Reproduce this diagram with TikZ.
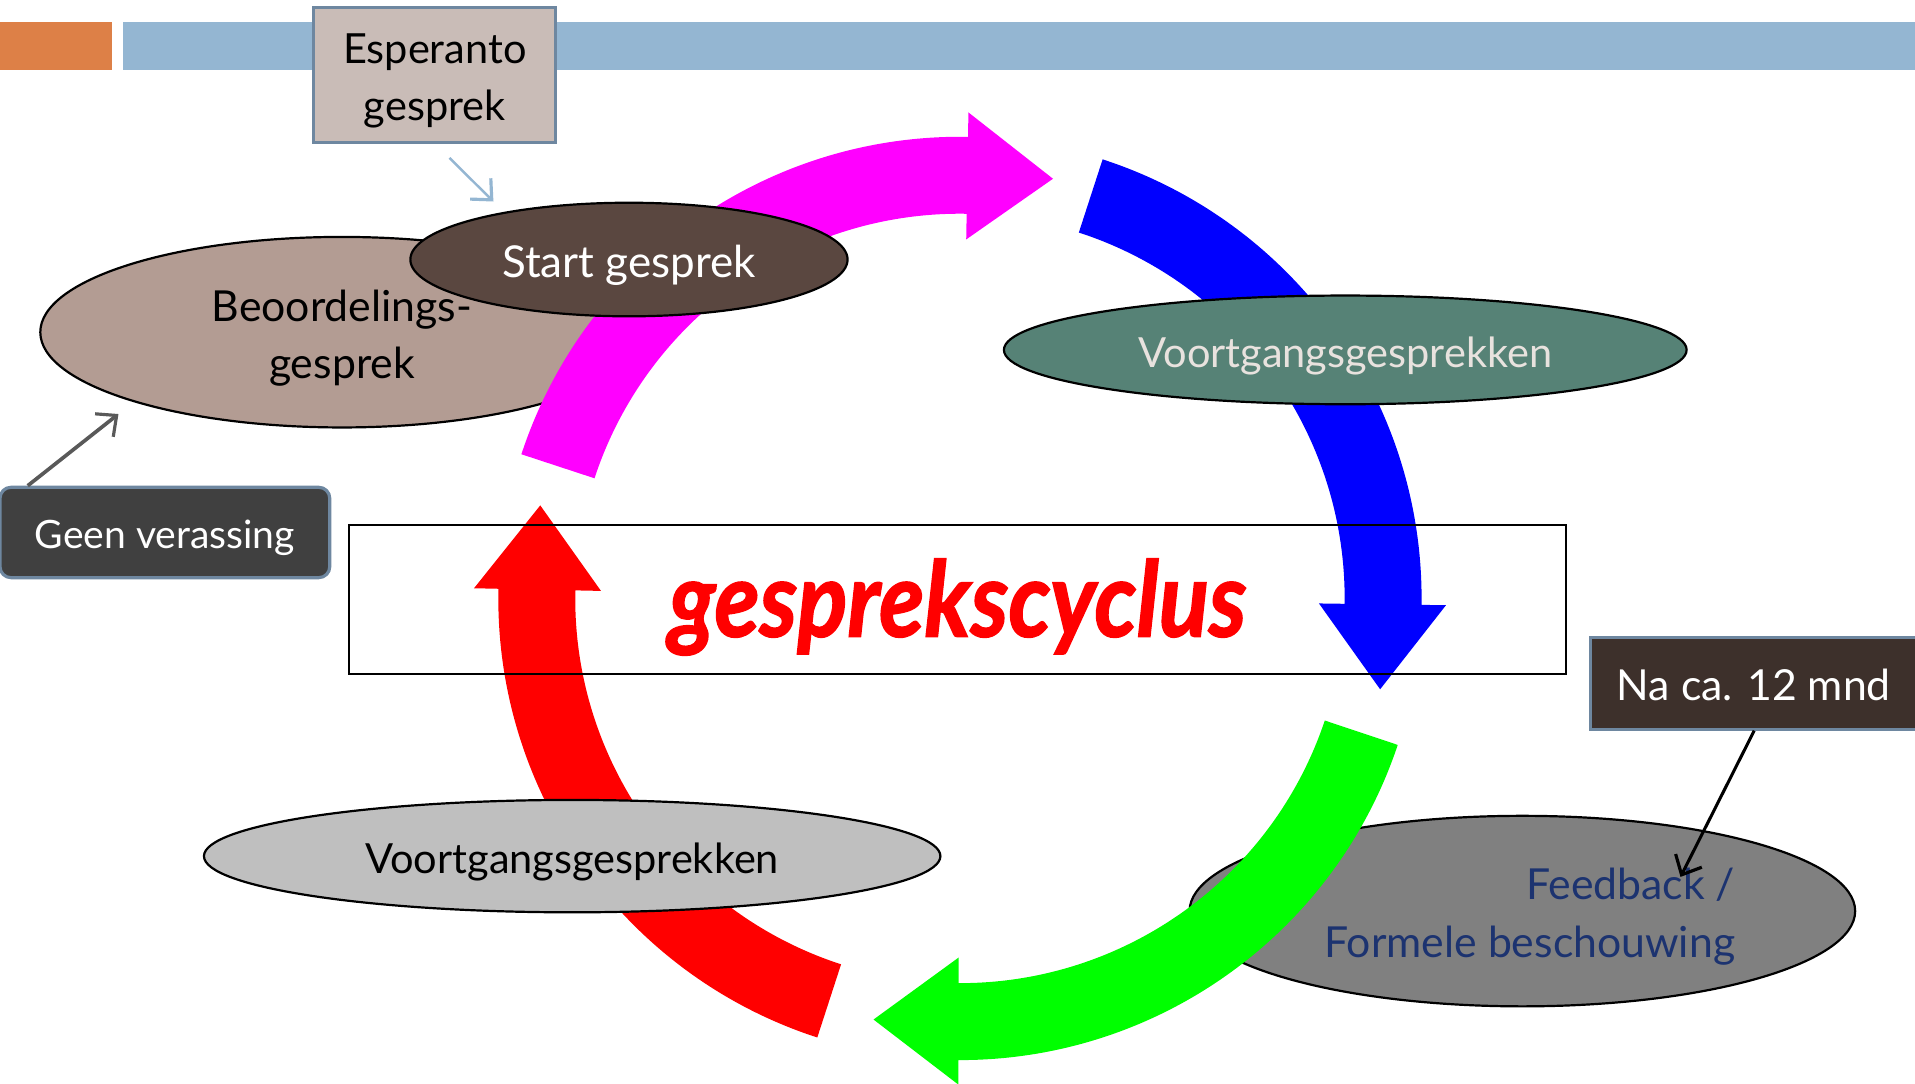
\documentclass[tikz,border=0pt]{standalone}
\usepackage{fontspec}
\setmainfont{Lato}
\newfontfamily\titlefont{Lato}[BoldItalicFeatures={FakeBold=1.6}]
\usetikzlibrary{arrows.meta,shapes.geometric}
\definecolor{barorange}{HTML}{DD8047}
\definecolor{barblue}{HTML}{94B6D2}
\definecolor{espfill}{HTML}{C9BCB7}
\definecolor{boxborder}{HTML}{6E87A0}
\definecolor{beofill}{HTML}{B39C93}
\definecolor{startfill}{HTML}{5A4740}
\definecolor{vtrfill}{HTML}{568276}
\definecolor{vtrtext}{HTML}{E8E2DE}
\definecolor{fbfill}{HTML}{808080}
\definecolor{fbtext}{HTML}{1C3370}
\definecolor{vbotfill}{HTML}{BFBFBF}
\definecolor{geenfill}{HTML}{404040}
\definecolor{nafill}{HTML}{3D302B}
\definecolor{geenarrow}{HTML}{595959}
\definecolor{cmag}{HTML}{FF00FF}
\definecolor{cblue}{HTML}{0000FF}
\definecolor{cgreen}{HTML}{00FF00}
\definecolor{cred}{HTML}{FF0000}
\newcommand\labfont[1]{\fontsize{#1}{47}\selectfont}
\newcommand\cycarrow[4]{%
  \fill[#1] (#2:378pt) arc[start angle=#2, end angle=#3, radius=378pt]
    -- (#3:398pt) -- (#4:352pt) -- (#3:294pt) -- (#3:315pt)
    arc[start angle=#3, end angle=#2, radius=315pt] -- cycle;}
\begin{document}
\begin{tikzpicture}[x=1pt,y=1pt,
  oval/.style={ellipse, draw=black, line width=1.8pt, inner sep=0pt},
  callbox/.style={draw=boxborder, line width=2.6pt, inner sep=0pt},
  inlabel/.style={inner sep=0pt, align=center, yshift=-5pt},
  calloutarrow/.style={-{Straight Barb[length=13pt,width=24pt,line width=2.6pt]}}
]
\useasboundingbox (0,0) rectangle (1568,887);
\fill[white] (0,0) rectangle (1568,887);
% top bar
\fill[barorange] (0,830) rectangle (92,869);
\fill[barblue] (101,830) rectangle (1568,869);

% ellipses under the arrows
\node[oval, fill=beofill, minimum width=494pt, minimum height=156pt,
      label={[inlabel, font=\labfont{35}]center:{Beoordelings-\\gesprek}}] (beo) at (280,615) {};
\node[oval, fill=fbfill, minimum width=545pt, minimum height=156pt] (fb) at (1246.5,141) {};
\node[anchor=east, align=right, text=fbtext, font=\labfont{35}, inner sep=0pt] (fbtext)
      at (1421,136.5) {Feedback /\hspace{11pt}\\Formele beschouwing};

% cycle arrows
\begin{scope}[shift={(786,397)}]
\cycarrow{cmag}{161.8}{89}{77.5}
\cycarrow{cblue}{72}{-0.8}{-12.2}
\cycarrow{cgreen}{-18.5}{-90.2}{-101.6}
\cycarrow{cred}{252}{178.8}{167.5}
\end{scope}

% ellipses over the arrows
\node[oval, fill=startfill, minimum width=358pt, minimum height=93pt,
      label={[inlabel, text=white, font=\labfont{36}]center:Start gesprek}] (start) at (515,674.5) {};
\node[oval, fill=vtrfill, minimum width=559pt, minimum height=89pt,
      label={[inlabel, text=vtrtext, font=\labfont{34}]center:Voortgangsgesprekken}] (vtr) at (1101.5,600.5) {};
\node[oval, fill=vbotfill, minimum width=603pt, minimum height=92pt,
      label={[inlabel, text=black, font=\labfont{34}]center:Voortgangsgesprekken}] (vbot) at (468.5,186) {};

% central title box
\node[draw=black, line width=1.6pt, minimum width=996pt, minimum height=122pt, inner sep=0pt]
      (titlebox) at (784,396) {};
\node[text=cred, font=\fontsize{76}{80}\titlefont\bfseries\itshape, inner sep=0pt, yscale=1.13]
      (title) at (784,390) {gesprekscyclus};

% callout boxes
\node[callbox, fill=espfill, minimum width=198pt, minimum height=111pt,
      label={[inlabel, font=\labfont{34}]center:{Esperanto\\gesprek}}] (esp) at (356,825.5) {};
\node[callbox, fill=geenfill, rounded corners=9pt, minimum width=270pt, minimum height=74pt,
      label={[inlabel, yshift=1pt, text=white, font=\labfont{32}]center:Geen verassing}] (geen) at (135,451) {};
\node[callbox, fill=nafill, minimum width=272pt, minimum height=75pt, anchor=west] (na) at (1301,327.5) {};
\node[text=white, font=\labfont{35}, inner sep=0pt] (natext) at (1436,326) {Na ca. 12 mnd};

% callout connectors
\coordinate (espTip) at (404,722);
\coordinate (geenTip) at (97,548);
\coordinate (naTip) at (1376,169);
\draw[calloutarrow, draw=barblue, line width=2pt] ([xshift=12pt,yshift=-11pt]esp.south) -- (espTip);
\draw[calloutarrow, draw=geenarrow, line width=3pt] ([xshift=24pt]geen.north west) -- (geenTip);
\draw[calloutarrow, draw=black, line width=2.5pt] ([xshift=-2pt]na.south) -- (naTip);
\end{tikzpicture}
\end{document}
